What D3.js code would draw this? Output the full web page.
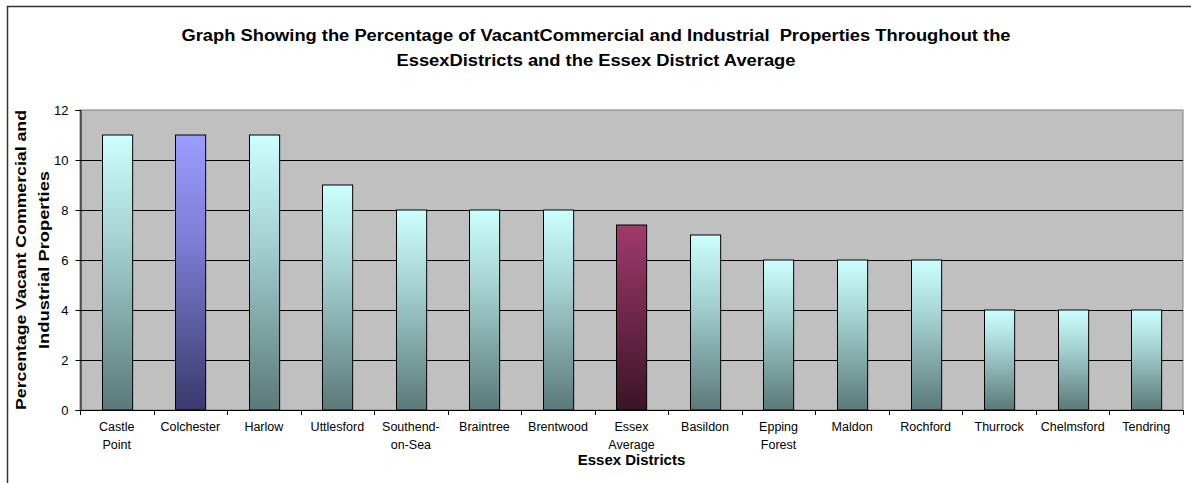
<!DOCTYPE html>
<html>
<head>
<meta charset="utf-8">
<script src="https://cdn.jsdelivr.net/npm/d3@7"></script>
<style>
  html, body { margin: 0; padding: 0; background: #fff; }
  svg { display: block; font-family: Arial, "Liberation Sans", sans-serif; }
</style>
</head>
<body>
<svg id="chart" width="1191" height="483"></svg>
<script>
// Vacancy rates of commercial and industrial properties by district (%)
const districts = ["Castle Point", "Colchester", "Harlow", "Uttlesford", "Southend-on-Sea",
  "Braintree", "Brentwood", "Essex Average", "Basildon", "Epping Forest", "Maldon",
  "Rochford", "Thurrock", "Chelmsford", "Tendring"];
const vacantPct = [11, 11, 11, 9, 8, 8, 8, 7.4, 7, 6, 6, 6, 4, 4, 4];
const yTicks = [0, 2, 4, 6, 8, 10, 12];
const titleLines = [
  "Graph Showing the Percentage of VacantCommercial and Industrial  Properties Throughout the",
  "EssexDistricts and the Essex District Average"
];
const yTitleLines = ["Percentage Vacant Commercial and", "Industrial Properties"];
const xTitle = "Essex Districts";

// Fill style per bar: highlighted entries get their own gradient
const barStyle = d => d === "Colchester" ? "gradBlue" : d === "Essex Average" ? "gradWine" : "gradTeal";

const svg = d3.select("#chart");
const plot = { left: 80, right: 1183, top: 110, bottom: 410 };

// Outer chart frame (runs off the right and bottom edges)
svg.append("rect")
  .attr("x", 7.5).attr("y", 6.5)
  .attr("width", 1300).attr("height", 600)
  .attr("fill", "#fff").attr("stroke", "#333").attr("stroke-width", 1.5);

const defs = svg.append("defs");
const grads = {
  gradTeal: ["#ccffff", "#a3cfcf", "#5b7979"],
  gradBlue: ["#9c9cff", "#7c7cd2", "#39396c"],
  gradWine: ["#a13a6c", "#782a50", "#3b1426"]
};
Object.entries(grads).forEach(([id, c]) => {
  const g = defs.append("linearGradient").attr("id", id)
    .attr("x1", 0).attr("y1", 0).attr("x2", 0).attr("y2", 1);
  g.append("stop").attr("offset", "0%").attr("stop-color", c[0]);
  g.append("stop").attr("offset", "40%").attr("stop-color", c[1]);
  g.append("stop").attr("offset", "100%").attr("stop-color", c[2]);
});

const x = d3.scaleBand().domain(districts).range([plot.left, plot.right])
  .paddingInner(0.59).paddingOuter(0.295);
const xEdge = d3.scaleLinear().domain([0, districts.length]).range([plot.left, plot.right]);
const y = d3.scaleLinear().domain([0, 12]).range([plot.bottom, plot.top]);

// Plot area
svg.append("rect")
  .attr("x", plot.left).attr("y", plot.top)
  .attr("width", plot.right - plot.left).attr("height", plot.bottom - plot.top)
  .attr("fill", "#c0c0c0").attr("stroke", "#808080").attr("stroke-width", 1);

// Gridlines
svg.append("g").selectAll("line").data(yTicks.filter(t => t > 0 && t < 12)).join("line")
  .attr("x1", plot.left).attr("x2", plot.right)
  .attr("y1", d => Math.round(y(d)) + 0.5).attr("y2", d => Math.round(y(d)) + 0.5)
  .attr("stroke", "#000").attr("stroke-width", 1);

// Bars
svg.append("g").selectAll("rect").data(districts).join("rect")
  .attr("x", d => Math.round(x(d)) + 0.5)
  .attr("y", (d, i) => y(vacantPct[i]))
  .attr("width", x.bandwidth())
  .attr("height", (d, i) => plot.bottom - y(vacantPct[i]))
  .attr("fill", d => `url(#${barStyle(d)})`)
  .attr("stroke", "#000").attr("stroke-width", 1);

// Y axis
const yAxis = svg.append("g").attr("transform", `translate(${plot.left + 0.5},0)`)
  .call(d3.axisLeft(y).tickValues(yTicks).tickSize(5).tickPadding(7));
yAxis.select(".domain").attr("stroke", "#000");
yAxis.selectAll(".tick line").attr("stroke", "#000");
yAxis.selectAll("text").attr("font-size", 13).attr("fill", "#000")
  .style("font-family", "Arial, 'Liberation Sans', sans-serif");

// X axis: ticks on the category boundaries
const xAxisG = svg.append("g");
xAxisG.append("line").attr("x1", plot.left).attr("x2", plot.right)
  .attr("y1", plot.bottom + 0.5).attr("y2", plot.bottom + 0.5).attr("stroke", "#000");
xAxisG.selectAll("line.tick").data(d3.range(districts.length + 1)).join("line")
  .attr("class", "tick")
  .attr("x1", d => Math.round(xEdge(d)) + 0.5).attr("x2", d => Math.round(xEdge(d)) + 0.5)
  .attr("y1", plot.bottom).attr("y2", plot.bottom + 5).attr("stroke", "#000");

// Category labels, wrapped onto two lines
function wrapName(name) {
  if (name.includes(" ")) return name.split(" ");
  const h = name.indexOf("-");
  if (h > 0) return [name.slice(0, h + 1), name.slice(h + 1)];
  return [name];
}
const labels = xAxisG.selectAll("text.cat").data(districts).join("text")
  .attr("class", "cat")
  .attr("text-anchor", "middle")
  .attr("font-size", 12.5)
  .attr("fill", "#000")
  .attr("x", d => x(d) + x.bandwidth() / 2)
  .attr("y", plot.bottom + 21);
labels.selectAll("tspan").data(d => wrapName(d)).join("tspan")
  .attr("x", function () { return d3.select(this.parentNode).attr("x"); })
  .attr("dy", (d, i) => i === 0 ? 0 : 18)
  .text(d => d);

// Title (wide bold lettering)
const titleWidths = [829, 399];
svg.append("text")
  .attr("text-anchor", "middle").attr("font-weight", "bold").attr("font-size", 16)
  .style("white-space", "pre")
  .selectAll("tspan").data(titleLines).join("tspan")
  .attr("x", 596).attr("y", (d, i) => 41 + i * 25)
  .attr("textLength", (d, i) => titleWidths[i])
  .attr("lengthAdjust", "spacingAndGlyphs")
  .text(d => d);

// Y axis title
const yTitleWidths = [300, 178];
const yMid = (plot.top + plot.bottom) / 2;
yTitleLines.forEach((line, i) => {
  svg.append("text")
    .attr("transform", `translate(${26 + i * 22.5},${yMid}) rotate(-90)`)
    .attr("text-anchor", "middle").attr("font-weight", "bold").attr("font-size", 15)
    .attr("textLength", yTitleWidths[i])
    .attr("lengthAdjust", "spacingAndGlyphs")
    .text(line);
});

// X axis title
svg.append("text")
  .attr("x", (plot.left + plot.right) / 2).attr("y", 465)
  .attr("text-anchor", "middle").attr("font-weight", "bold").attr("font-size", 15)
  .text(xTitle);
</script>
</body>
</html>
